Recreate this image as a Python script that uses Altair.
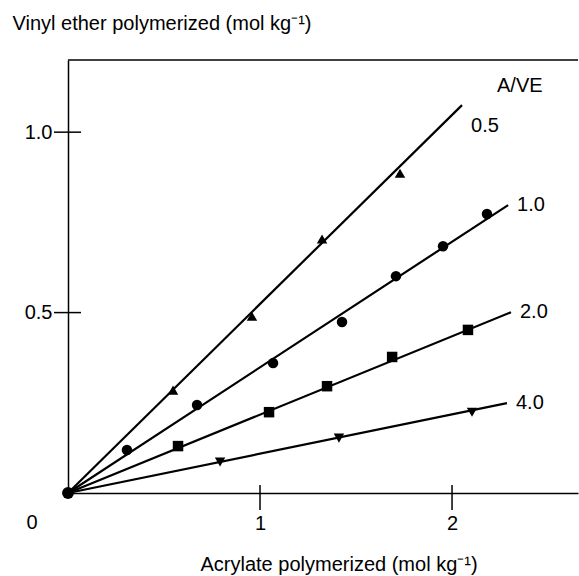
import altair as alt
import pandas as pd

# ---- data ----
series = ["0.5", "1.0", "2.0", "4.0"]
shapes = ["triangle-up", "circle", "square", "triangle-down"]

x_05 = [0.547, 0.958, 1.323, 1.729]
y_05 = [0.285, 0.490, 0.704, 0.886]
x_10 = [0.307, 0.672, 1.068, 1.427, 1.708, 1.953, 2.182]
y_10 = [0.119, 0.244, 0.360, 0.474, 0.601, 0.684, 0.773]
x_20 = [0.573, 1.047, 1.349, 1.688, 2.083]
y_20 = [0.130, 0.224, 0.296, 0.377, 0.452]
x_40 = [0.792, 1.411, 2.104]
y_40 = [0.086, 0.152, 0.224]

line_end_x = [2.052, 2.292, 2.307, 2.286]
line_end_y = [1.075, 0.798, 0.501, 0.249]

origin_x = [0.0]
origin_y = [0.0]

x_ticks = [1, 2]
y_ticks = [0.5, 1.0]

x_title = "Acrylate polymerized (mol kg\u207b\u00b9)"
y_title = "Vinyl ether polymerized (mol kg\u207b\u00b9)"
legend_title = "A/VE"

# ---- tables ----
pts = []
for s, xs_, ys_ in zip(series, [x_05, x_10, x_20, x_40], [y_05, y_10, y_20, y_40]):
    for a, b in zip(xs_, ys_):
        pts.append({"series": s, "x": a, "y": b})
pts_df = pd.DataFrame(pts)

line_rows = []
for s, ex, ey in zip(series, line_end_x, line_end_y):
    line_rows.append({"series": s, "x": origin_x[0], "y": origin_y[0], "o": 0})
    line_rows.append({"series": s, "x": ex, "y": ey, "o": 1})
line_df = pd.DataFrame(line_rows)

end_df = pd.DataFrame({"series": series, "x": line_end_x, "y": line_end_y})
origin_df = pd.DataFrame({"x": origin_x, "y": origin_y})
xt_df = pd.DataFrame({"x": x_ticks})
yt_df = pd.DataFrame({"y": y_ticks})

W, H = 510, 433
FONT = "Liberation Sans"
FS = 20

xs = alt.Scale(domain=[0, 2.656], nice=False, zero=False)
ys = alt.Scale(domain=[0, 1.2], nice=False, zero=False)

X = alt.X("x:Q", scale=xs, axis=alt.Axis(
    values=x_ticks, format="d", ticks=False, grid=False,
    labelBaseline="alphabetic", labelPadding=36,
    title=x_title, titleX=132, titleY=77, titleAlign="left",
    titleBaseline="alphabetic", titleAngle=0))
Y = alt.Y("y:Q", scale=ys, axis=alt.Axis(
    values=y_ticks, format=".1f", ticks=False, grid=False,
    labelPadding=16, labelBaseline="middle",
    title=y_title, titleX=-56, titleY=-31, titleAlign="left",
    titleBaseline="alphabetic", titleAngle=0))

lines = alt.Chart(line_df).mark_line(color="black", strokeWidth=2.2).encode(
    x=X, y=Y, detail="series:N", order="o:Q")

points = alt.Chart(pts_df).mark_point(filled=True, color="black", opacity=1, size=110).encode(
    x=X, y=Y,
    shape=alt.Shape("series:N", scale=alt.Scale(domain=series, range=shapes), legend=None))

origin = alt.Chart(origin_df).mark_point(filled=True, shape="circle", color="black",
                                          opacity=1, size=140).encode(x=X, y=Y)

label_layers = []
for s in series:
    dy = 21 if s == "0.5" else 0
    label_layers.append(
        alt.Chart(end_df[end_df.series == s]).mark_text(
            align="left", baseline="middle", dx=9, dy=dy,
            font=FONT, fontSize=FS, color="black").encode(
            x=X, y=Y, text="series:N"))

xticks = alt.Chart(xt_df).mark_rule(color="black", strokeWidth=1.5).encode(
    x=X, y=alt.value(H - 8), y2=alt.value(H + 17))
yticks = alt.Chart(yt_df).mark_rule(color="black", strokeWidth=1.5).encode(
    y=Y, x=alt.value(-14), x2=alt.value(13))

top_border = alt.Chart(origin_df).mark_rule(color="black", strokeWidth=1.5).encode(
    x=alt.value(0), x2=alt.value(W), y=alt.value(0))

zero_label = alt.Chart(origin_df).mark_text(
    align="center", baseline="alphabetic", font=FONT, fontSize=FS, color="black").encode(
    x=alt.value(-36), y=alt.value(H + 36), text=alt.value("0"))

legend_label = alt.Chart(origin_df).mark_text(
    align="left", baseline="alphabetic", font=FONT, fontSize=FS, color="black").encode(
    x=alt.value(429), y=alt.value(32), text=alt.value(legend_title))

chart = alt.layer(
    lines, points, origin, xticks, yticks, top_border, zero_label, legend_label, *label_layers
).properties(
    width=W, height=H,
    padding={"left": 68, "top": 60, "right": 1, "bottom": 83},
    autosize=alt.AutoSizeParams(type="none"),
    background="white",
).configure_view(stroke=None).configure_axis(
    domainColor="black", domainWidth=1.5,
    labelFont=FONT, labelFontSize=FS, labelColor="black",
    titleFont=FONT, titleFontSize=FS, titleColor="black", titleFontWeight="normal",
)

chart.save("out.html", embed_options={"renderer": "svg", "actions": False})
